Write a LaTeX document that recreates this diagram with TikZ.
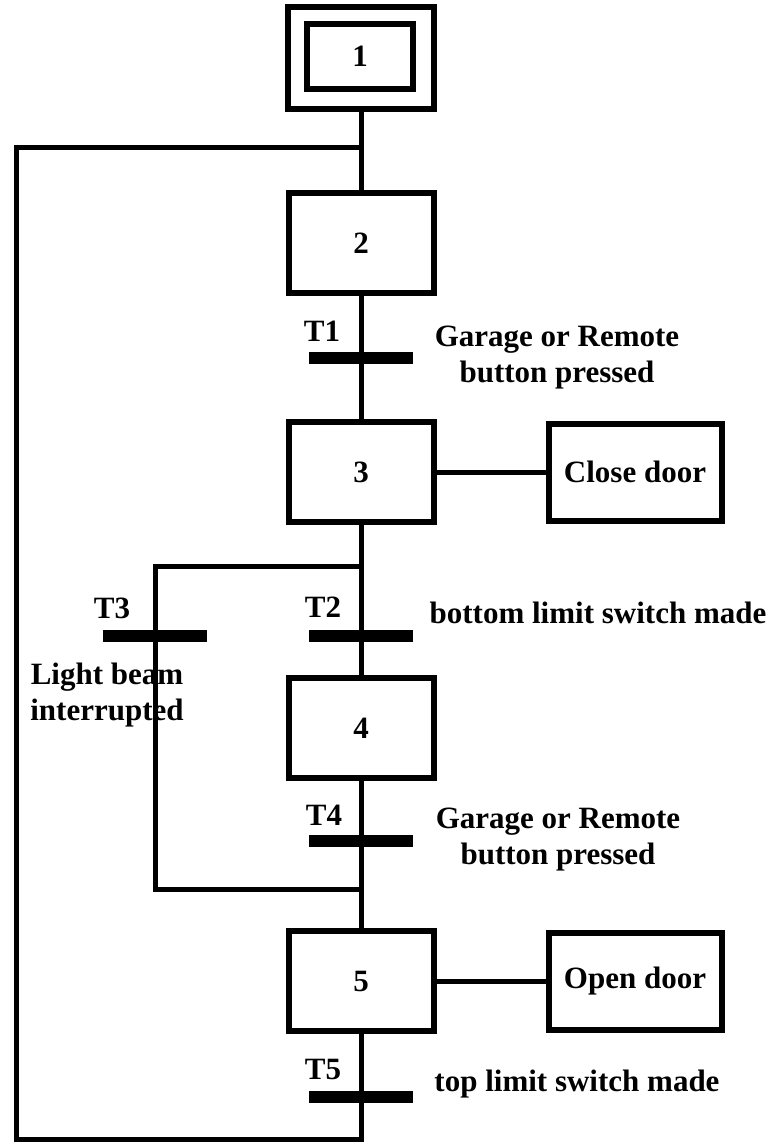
\documentclass[tikz,border=0pt]{standalone}
\usepackage{fontspec}
\setmainfont{Liberation Serif}
\begin{document}
\begin{tikzpicture}[x=1pt,y=-1pt,
  txt/.style={font=\fontsize{31}{36}\selectfont\bfseries,inner sep=0pt,align=center},
  stepbox/.style={draw,line width=6pt,minimum width=145pt,minimum height=100pt,inner sep=0pt,font=\fontsize{31}{36}\selectfont\bfseries},
  actbox/.style={draw,line width=6pt,minimum width=173pt,minimum height=97pt,inner sep=0pt,font=\fontsize{31}{36}\selectfont\bfseries},
  bar/.style={fill=black,draw=none,minimum width=104pt,minimum height=12pt,inner sep=0pt},
  link/.style={line width=5pt}]
\useasboundingbox (0,0) rectangle (780,1144);
% initial step
\node[draw,line width=6pt,minimum width=146pt,minimum height=102pt,inner sep=0pt] (s1) at (361,58) {};
\node[draw,line width=6pt,minimum width=106pt,minimum height=65pt,inner sep=0pt,font=\fontsize{31}{36}\selectfont\bfseries] (s1i) at (360,56) {1};
% steps
\node[stepbox] (s2) at (361,243) {2};
\node[stepbox] (s3) at (361,472) {3};
\node[stepbox] (s4) at (361,728) {4};
\node[stepbox] (s5) at (361,981) {5};
% actions
\node[actbox] (a3) at (635,472) {Close door};
\node[actbox] (a5) at (635,981) {Open door};
% junction coordinates
\coordinate (j1) at (361,147);
\coordinate (c1) at (16,147);
\coordinate (c2) at (16,1139);
\coordinate (bot) at (361,1139);
\coordinate (j2) at (361,566);
\coordinate (b1) at (155,566);
\coordinate (j3) at (361,889);
\coordinate (b2) at (155,889);
% transitions (bars)
\node[bar] (t1) at (361,358) {};
\node[bar] (t2) at (361,636) {};
\node[bar] (t3) at (155,636) {};
\node[bar] (t4) at (361,841) {};
\node[bar] (t5) at (361,1097) {};
% connectors
\draw[link] (s1.south) -- (s2.north);
\draw[link] (s2.south) -- (t1.center) -- (s3.north);
\draw[link] (s3.south) -- (t2.center) -- (s4.north);
\draw[link] (s4.south) -- (t4.center) -- (s5.north);
\draw[link] (s5.south) -- (t5.center) -- (bot) -- (c2) -- (c1) -- (j1);
\draw[link] (j2) -- (b1) -- (t3.center) -- (b2) -- (j3);
\draw[link] (s3.east) -- (a3.west);
\draw[link] (s5.east) -- (a5.west);
% redraw bars on top
\fill (t1.south west) rectangle (t1.north east);
\fill (t2.south west) rectangle (t2.north east);
\fill (t3.south west) rectangle (t3.north east);
\fill (t4.south west) rectangle (t4.north east);
\fill (t5.south west) rectangle (t5.north east);
% labels
\node[txt] (l1) at (322,331) {T1};
\node[txt] (l2) at (323,607) {T2};
\node[txt] (l3) at (112,608) {T3};
\node[txt] (l4) at (324,815) {T4};
\node[txt] (l5) at (323,1069) {T5};
\node[txt] (c1t) at (557,358) {Garage or Remote\\button pressed};
\node[txt] (c2t) at (598,613) {bottom limit switch made};
\node[txt] (c3t) at (107,695) {Light beam\\interrupted};
\node[txt] (c4t) at (558,840) {Garage or Remote\\button pressed};
\node[txt] (c5t) at (577,1084) {top limit switch made};
\end{tikzpicture}
\end{document}
